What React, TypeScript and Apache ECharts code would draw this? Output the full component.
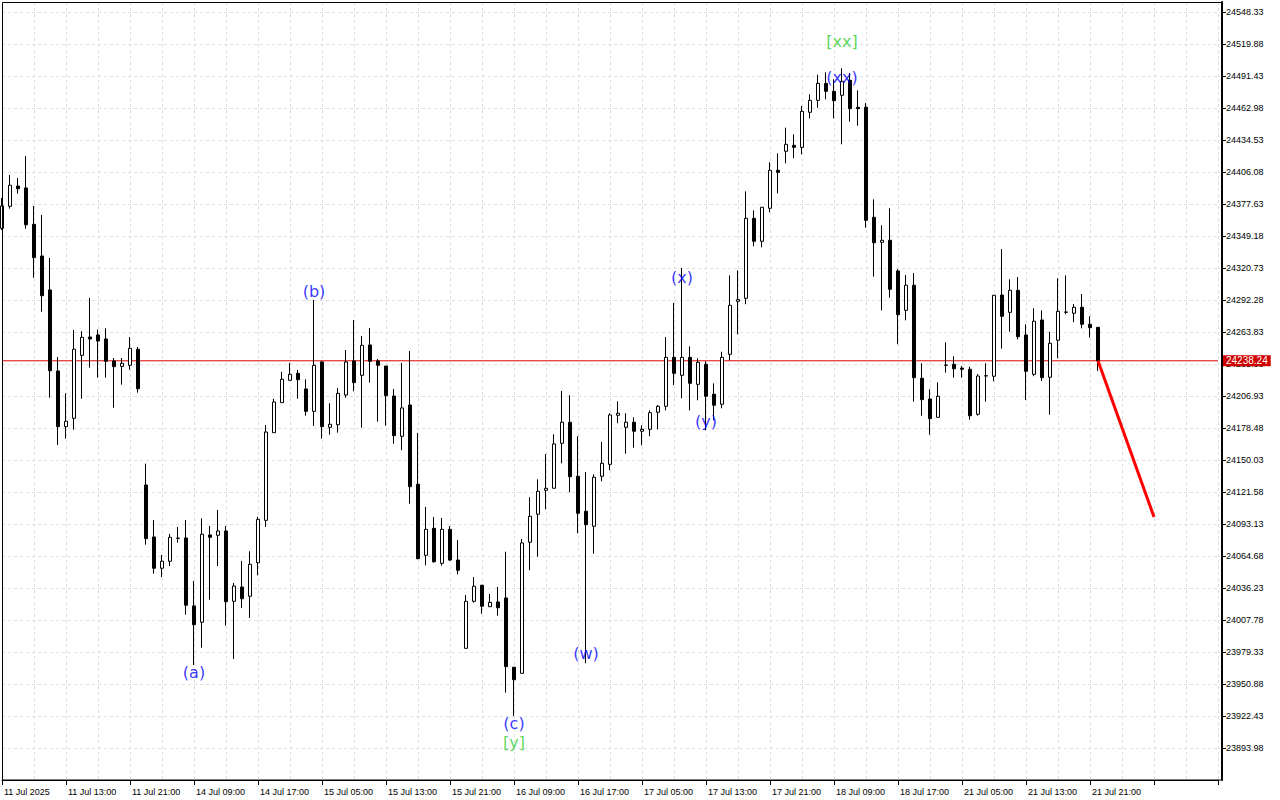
import React, { useEffect, useRef } from "react";
import * as echarts from "echarts";

const tickLabels = [
  "11 Jul 2025", "11 Jul 13:00", "11 Jul 21:00", "14 Jul 09:00", "14 Jul 17:00", "15 Jul 05:00",
  "15 Jul 13:00", "15 Jul 21:00", "16 Jul 09:00", "16 Jul 17:00", "17 Jul 05:00", "17 Jul 13:00",
  "17 Jul 21:00", "18 Jul 09:00", "18 Jul 17:00", "21 Jul 05:00", "21 Jul 13:00", "21 Jul 21:00",
];
const totalSlots = 153;

const opens = [
  24356.0, 24375.6, 24393.6, 24391.9, 24359.6, 24331.4, 24301.2, 24229.2, 24179.7, 24187.1,
  24243.1, 24259.4, 24261.2, 24257.6, 24238.1, 24233.3, 24234.2, 24248.5, 24127.8, 24081.6,
  24053.8, 24060.0, 24080.4, 24080.7, 24020.3, 24005.8, 24083.4, 24083.1, 24086.9, 24024.4,
  24037.1, 24028.9, 24058.7, 24096.4, 24174.3, 24201.0, 24220.9, 24227.1, 24213.2, 24193.3,
  24237.2, 24179.1, 24181.4, 24207.8, 24238.1, 24225.3, 24252.3, 24238.1, 24233.6, 24206.9,
  24171.1, 24198.9, 24128.4, 24065.3, 24089.3, 24058.2, 24088.4, 24061.1, 23982.6, 24024.4,
  24038.7, 24019.6, 24023.8, 24027.4, 23965.8, 23960.4, 24076.9, 24101.8, 24123.1, 24124.9,
  24164.9, 24183.6, 24135.6, 24104.4, 24091.1, 24135.6, 24146.2, 24189.8, 24179.1, 24183.6,
  24175.6, 24177.3, 24192.5, 24197.8, 24241.3, 24225.3, 24241.3, 24217.3, 24235.1, 24208.5,
  24199.6, 24244.0, 24291.1, 24293.8, 24364.9, 24344.5, 24373.8, 24407.6, 24424.5, 24429.8,
  24428.0, 24459.2, 24469.8, 24484.9, 24477.8, 24474.3, 24487.6, 24463.6, 24463.6, 24365.8,
  24343.6, 24345.4, 24318.1, 24283.1, 24305.4, 24222.7, 24204.3, 24188.0, 24234.2, 24235.1,
  24231.8, 24230.7, 24190.7, 24224.7, 24224.5, 24296.7, 24281.3, 24300.9, 24261.2, 24226.2,
  24274.5, 24223.6, 24256.5, 24281.4, 24280.5, 24285.8, 24270.7, 24268.0,
];
const closes = [
  24375.9, 24394.3, 24391.2, 24359.2, 24329.9, 24296.1, 24229.4, 24179.7, 24184.5, 24248.5,
  24259.1, 24257.6, 24255.8, 24237.8, 24233.0, 24236.0, 24249.3, 24213.4, 24080.1, 24053.8,
  24060.0, 24081.3, 24080.6, 24020.9, 24003.6, 24084.0, 24081.3, 24086.9, 24024.1, 24038.0,
  24026.7, 24057.3, 24097.3, 24174.9, 24201.6, 24221.8, 24226.2, 24221.4, 24193.3, 24234.2,
  24179.7, 24181.8, 24209.3, 24237.2, 24218.8, 24252.0, 24237.8, 24234.2, 24207.2, 24171.7,
  24196.3, 24126.3, 24062.3, 24088.4, 24059.6, 24088.4, 24061.1, 24052.0, 24024.4, 24037.8,
  24020.0, 24023.5, 24018.7, 23966.3, 23954.7, 24076.3, 24100.0, 24122.2, 24124.9, 24164.3,
  24183.6, 24135.2, 24102.7, 24092.5, 24134.7, 24147.1, 24190.1, 24191.6, 24183.6, 24175.6,
  24177.3, 24192.1, 24197.8, 24241.3, 24227.1, 24241.3, 24218.2, 24236.9, 24206.7, 24198.7,
  24241.3, 24287.6, 24292.6, 24364.9, 24344.5, 24374.7, 24407.6, 24405.8, 24430.7, 24428.0,
  24460.0, 24469.8, 24484.9, 24477.8, 24469.5, 24486.7, 24462.4, 24462.4, 24363.1, 24343.2,
  24345.4, 24301.8, 24279.2, 24305.4, 24223.2, 24203.7, 24186.8, 24206.7, 24234.4, 24231.2,
  24230.7, 24189.4, 24224.7, 24225.0, 24296.5, 24277.8, 24300.9, 24259.7, 24228.9, 24273.4,
  24223.2, 24253.8, 24282.2, 24281.6, 24285.8, 24270.7, 24267.7, 24238.24,
];
const lows = [
  24354.5, 24373.5, 24386.8, 24355.7, 24312.1, 24281.9, 24205.4, 24163.4, 24169.0, 24177.0,
  24204.5, 24232.1, 24223.2, 24223.2, 24196.5, 24217.0, 24230.3, 24209.9, 24074.7, 24049.0,
  24045.8, 24055.8, 24076.5, 24012.5, 23967.8, 23983.2, 24025.9, 24055.8, 24002.7, 23973.1,
  24018.5, 24009.6, 24047.5, 24090.5, 24174.1, 24201.0, 24220.9, 24204.5, 24189.4, 24180.3,
  24169.0, 24172.5, 24174.3, 24205.4, 24211.1, 24178.8, 24218.8, 24184.1, 24180.5, 24164.5,
  24158.7, 24111.2, 24061.8, 24056.4, 24058.7, 24056.1, 24060.3, 24048.4, 23982.6, 24023.2,
  24013.4, 24019.6, 24011.6, 23943.2, 23922.5, 23960.4, 24052.0, 24064.1, 24106.2, 24124.9,
  24147.1, 24121.3, 24084.9, 23969.3, 24066.7, 24131.1, 24140.9, 24182.7, 24155.6, 24161.0,
  24163.1, 24171.1, 24177.3, 24194.2, 24216.5, 24204.9, 24194.2, 24203.1, 24176.4, 24185.3,
  24196.0, 24238.7, 24261.8, 24288.5, 24340.0, 24339.1, 24370.3, 24387.1, 24413.8, 24418.3,
  24421.8, 24453.8, 24463.2, 24470.7, 24453.8, 24430.7, 24450.8, 24447.2, 24356.6, 24313.0,
  24283.1, 24294.3, 24252.9, 24274.2, 24201.9, 24189.4, 24172.5, 24188.0, 24227.7, 24223.2,
  24223.2, 24185.9, 24189.4, 24201.9, 24220.0, 24249.0, 24264.1, 24257.3, 24203.4, 24224.5,
  24220.3, 24190.3, 24240.5, 24279.6, 24272.5, 24267.1, 24258.8, 24229.2,
];
const highs = [
  24383.0, 24403.4, 24400.7, 24420.3, 24375.9, 24367.9, 24329.6, 24241.6, 24209.3, 24265.6,
  24264.5, 24294.1, 24265.9, 24267.1, 24240.7, 24240.7, 24259.4, 24250.5, 24146.8, 24096.7,
  24065.6, 24084.3, 24090.5, 24096.7, 24042.5, 24098.2, 24091.4, 24105.6, 24091.4, 24040.7,
  24060.3, 24068.9, 24099.6, 24181.2, 24204.5, 24228.5, 24236.3, 24230.1, 24221.8, 24292.3,
  24238.1, 24200.5, 24214.1, 24247.8, 24274.5, 24260.3, 24267.4, 24239.8, 24233.6, 24213.2,
  24236.3, 24246.9, 24174.1, 24108.3, 24099.4, 24098.5, 24091.4, 24078.9, 24030.0, 24046.0,
  24038.7, 24030.9, 24037.1, 24068.5, 23965.8, 24079.8, 24116.9, 24132.9, 24155.4, 24172.9,
  24211.4, 24207.6, 24171.1, 24139.4, 24137.3, 24166.1, 24191.6, 24202.2, 24191.6, 24188.0,
  24180.9, 24194.2, 24198.9, 24259.4, 24289.6, 24320.7, 24251.1, 24240.5, 24237.8, 24218.2,
  24246.3, 24314.2, 24318.7, 24388.9, 24372.0, 24374.7, 24414.7, 24422.7, 24445.5, 24439.6,
  24464.8, 24475.2, 24492.6, 24494.7, 24488.5, 24498.3, 24494.1, 24478.7, 24467.4, 24381.8,
  24358.7, 24373.8, 24319.8, 24314.5, 24316.3, 24236.0, 24212.9, 24219.1, 24254.7, 24242.2,
  24233.6, 24233.0, 24226.5, 24236.0, 24296.8, 24337.6, 24310.7, 24312.7, 24270.7, 24284.9,
  24283.1, 24264.1, 24311.6, 24314.2, 24288.7, 24297.6, 24277.8, 24268.0,
];

const currentPrice = 24238.24;

const waveNames = ["(a)", "(b)", "(c)", "[y]", "(w)", "(x)", "(y)", "(xx)", "[xx]"];
const waveIdx = [24, 39, 64, 64, 73, 85, 88, 105, 105];
const wavePrice = [23960.7, 24299.7, 23916.2, 23898.5, 23977.6, 24312.1, 24184.1, 24490.5, 24522.5];
const waveColors = ["#0000ff", "#0000ff", "#0000ff", "#32cd32", "#0000ff", "#0000ff", "#0000ff", "#0000ff", "#32cd32"];

const projIdx = [137, 144];
const projPrice = [24238.24, 24099.4];

const yMin = 23865.53;
const yMax = 24557.22;
const yStep = 28.45;

export default function App() {
  const ref = useRef<HTMLDivElement>(null);
  useEffect(() => {
    if (!ref.current) return;
    const chart = echarts.init(ref.current, undefined, { renderer: "svg" });
    const cats = Array.from({ length: totalSlots }, (_, i) => String(i));
    const candles = opens.map((o, i) => [o, closes[i], lows[i], highs[i]]);
    const font = "Liberation Sans, Arial, sans-serif";
    chart.setOption({
      animation: false,
      backgroundColor: "#ffffff",
      grid: { left: 2, top: 2, width: 1216, height: 778, containLabel: false },
      xAxis: {
        type: "category",
        data: cats,
        boundaryGap: false,
        axisLine: { show: true, lineStyle: { color: "#000", width: 1 } },
        axisTick: { show: true, interval: 7, length: 5, lineStyle: { color: "#000" } },
        axisLabel: {
          interval: 7,
          align: "left",
          color: "#000",
          fontSize: 9,
          fontFamily: font,
          margin: 7,
          padding: [0, 0, 0, 2],
          hideOverlap: false,
          formatter: (_v: string, idx: number) => (idx % 8 === 0 && tickLabels[idx / 8]) || "",
        },
        splitLine: { show: true, interval: 3, lineStyle: { color: "#dedede", type: [3, 3], width: 1 } },
      },
      yAxis: {
        type: "value",
        position: "right",
        offset: 4,
        min: yMin,
        max: yMax,
        interval: yStep,
        axisLine: { show: true, lineStyle: { color: "#000", width: 2 } },
        axisTick: { show: true, length: 4, lineStyle: { color: "#000" } },
        axisLabel: {
          color: "#000",
          fontSize: 9,
          fontFamily: font,
          margin: 4,
          showMinLabel: false,
          showMaxLabel: false,
          formatter: (v: number) => v.toFixed(2),
        },
        splitLine: { show: true, lineStyle: { color: "#dedede", type: [3, 3], width: 1 } },
      },
      graphic: [
        {
          type: "rect",
          silent: true,
          z: 100,
          shape: { x: 2.5, y: 2.5, width: 1219, height: 777.5 },
          style: { fill: "none", stroke: "#000", lineWidth: 1 },
        },
      ],
      series: [
        {
          type: "line",
          name: "price",
          data: [
            [0, currentPrice],
            [totalSlots - 1, currentPrice],
          ],
          symbol: "none",
          silent: true,
          color: "#e00000",
          lineStyle: { color: "#e00000", width: 1, type: "solid" },
          emphasis: { disabled: true },
          z: 2,
          endLabel: {
            show: true,
            distance: 5,
            formatter: currentPrice.toFixed(2),
            backgroundColor: "#d00000",
            color: "#fff",
            padding: [1, 3, 0, 3],
            fontSize: 10,
            fontFamily: font,
          },
        },
        {
          type: "candlestick",
          data: candles,
          barWidth: 4,
          itemStyle: {
            color: "#ffffff",
            color0: "#000000",
            borderColor: "#000000",
            borderColor0: "#000000",
            borderColorDoji: "#000000",
            borderWidth: 1,
          },
          emphasis: { disabled: true },
          z: 3,
        },
        {
          type: "line",
          data: projIdx.map((x, k) => [x, projPrice[k]]),
          symbol: "none",
          color: "#ff0000",
          lineStyle: { color: "#ff0000", width: 3 },
          silent: true,
          emphasis: { disabled: true },
          z: 4,
        },
        {
          type: "scatter",
          symbolSize: 1,
          itemStyle: { color: "rgba(0,0,0,0)" },
          silent: true,
          z: 5,
          data: waveNames.map((n, k) => ({
            value: [waveIdx[k], wavePrice[k]],
            label: { formatter: n, color: waveColors[k] },
          })),
          label: {
            show: true,
            position: "inside",
            fontSize: 16,
            fontFamily: "DejaVu Sans, sans-serif",
          },
        },
      ],
    });
    return () => chart.dispose();
  }, []);
  return (
    <div
      ref={ref}
      style={{ position: "absolute", left: 0, top: 0, width: 1280, height: 800, background: "#fff" }}
    />
  );
}
